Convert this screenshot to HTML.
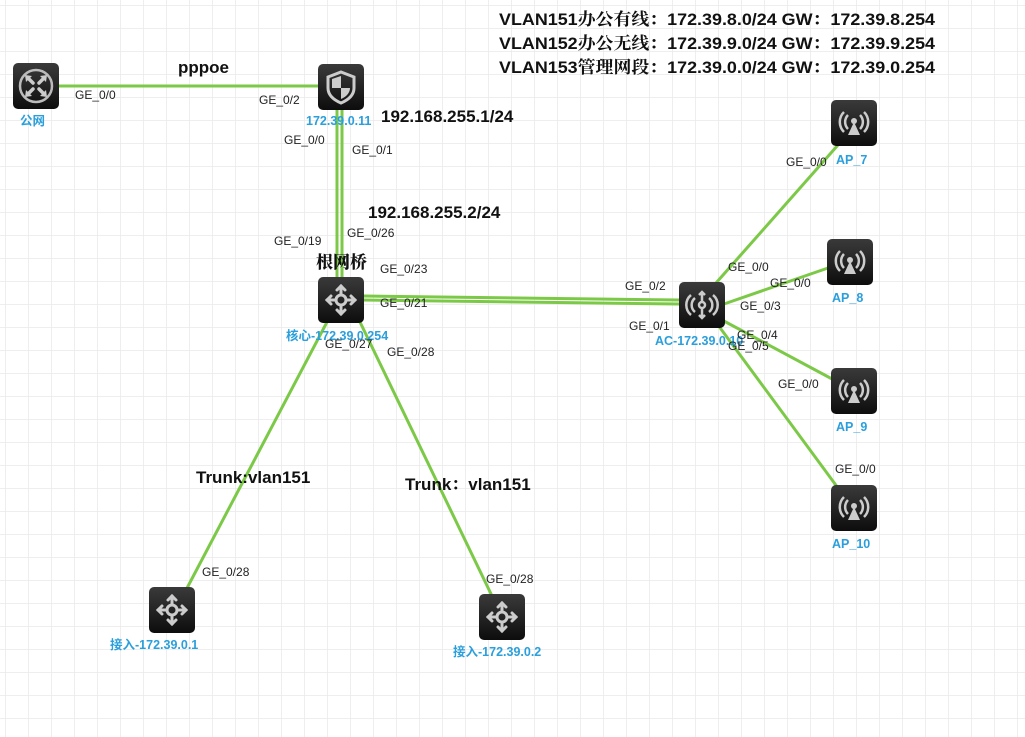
<!DOCTYPE html>
<html><head><meta charset="utf-8"><style>
html,body{margin:0;padding:0;background:#fff;}
svg{display:block;}
.p{font-family:"Liberation Sans",sans-serif;font-size:12px;fill:#222;}
.n{font-family:"Liberation Sans","Noto Sans CJK SC",sans-serif;font-size:12.5px;font-weight:bold;fill:#2a9fdc;}
.b{font-family:"Liberation Sans","Noto Serif CJK SC",sans-serif;font-size:17px;font-weight:bold;fill:#111;}
</style></head><body>
<svg width="1025" height="737" viewBox="0 0 1025 737" xmlns="http://www.w3.org/2000/svg">
<defs>
<pattern id="g" x="5" y="5" width="23" height="23" patternUnits="userSpaceOnUse">
<path d="M0 0V23M0 0H23" stroke="#e9e9e9" stroke-width="1.5" fill="none"/>
</pattern>
<linearGradient id="dk" x1="0" y1="0" x2="0" y2="1"><stop offset="0" stop-color="#3a3a3a"/><stop offset="1" stop-color="#0d0d0d"/></linearGradient>
<g id="box"><rect x="0" y="0" width="46" height="46" rx="5" fill="url(#dk)"/></g>
<g id="sw"><use href="#box"/>
<g stroke="#ccc" stroke-width="3" fill="none" stroke-linecap="round"><circle cx="23" cy="23" r="5"/><path d="M23 18V9M23 28V37M18 23H9M28 23H37"/><path d="M19 13L23 9L27 13M19 33L23 37L27 33M13 19L9 23L13 27M33 19L37 23L33 27"/></g></g>
<g id="ap"><use href="#box"/>
<g stroke="#ccc" stroke-width="2.5" fill="none"><path d="M17 15A10 10 0 0 0 17 29M13 12A14 14 0 0 0 13 32M29 15A10 10 0 0 1 29 29M33 12A14 14 0 0 1 33 32"/></g>
<circle cx="23" cy="21" r="3" fill="#ccc"/><path d="M23 22L17 35H29Z" fill="#ccc"/></g>
</defs>
<rect width="1025" height="737" fill="url(#g)"/>
<g stroke="#7cc947" stroke-width="3" fill="none">
<path d="M58 86H318"/>
<path d="M337 109V278M342 109V278"/>
<path d="M363 296L679 300M363 300L679 304"/>
<path d="M327 322L186 590"/>
<path d="M360 322L492 596"/>
<path d="M716 283L838 145"/>
<path d="M724 304L828 268"/>
<path d="M722 320L834 380"/>
<path d="M718 325L838 488"/>
</g>
<g transform="translate(13,63)"><use href="#box"/>
<circle cx="23" cy="23" r="16" fill="none" stroke="#bbb" stroke-width="2.5"/>
<g stroke="#ccc" stroke-width="3.5" fill="none" stroke-linecap="round"><path d="M15 15L20 20M31 15L26 20M15 31L20 26M31 31L26 26"/></g>
<g fill="#ccc"><path d="M12 12L19 13L13 19Z"/><path d="M34 12L27 13L33 19Z"/><path d="M12 34L19 33L13 27Z"/><path d="M34 34L27 33L33 27Z"/></g></g>
<g transform="translate(318,64)"><use href="#box"/><path d="M23 8L36 13V24C36 31 30 36 23 39C16 36 10 31 10 24V13Z" fill="none" stroke="#ccc" stroke-width="3"/><path d="M23 13V24H14V15L23 12Z M23 24H32C32 29 28 33 23 35Z" fill="#ccc"/></g>
<use href="#sw" x="318" y="277"/>
<use href="#sw" x="149" y="587"/>
<use href="#sw" x="479" y="594"/>
<g transform="translate(679,282)"><use href="#box"/><g stroke="#ccc" stroke-width="2.5" fill="none"><path d="M16 16A9 9 0 0 0 16 30M12 13A13 13 0 0 0 12 33M30 16A9 9 0 0 1 30 30M34 13A13 13 0 0 1 34 33"/><circle cx="23" cy="23" r="3"/><path d="M23 20V10M23 26V36M20 13L23 10L26 13M20 33L23 36L26 33"/></g></g>
<use href="#ap" x="831" y="100"/>
<use href="#ap" x="827" y="239"/>
<use href="#ap" x="831" y="368"/>
<use href="#ap" x="831" y="485"/>
<g class="n">
<text x="20" y="125">公网</text>
<text x="306" y="125">172.39.0.11</text>
<text x="286" y="340">核心-172.39.0.254</text>
<text x="655" y="345">AC-172.39.0.10</text>
<text x="836" y="164">AP_7</text>
<text x="832" y="302">AP_8</text>
<text x="836" y="431">AP_9</text>
<text x="832" y="548">AP_10</text>
<text x="110" y="649">接入-172.39.0.1</text>
<text x="453" y="656">接入-172.39.0.2</text>
</g>
<g class="p">
<text x="75" y="99">GE_0/0</text>
<text x="259" y="104">GE_0/2</text>
<text x="284" y="144">GE_0/0</text>
<text x="352" y="154">GE_0/1</text>
<text x="274" y="245">GE_0/19</text>
<text x="347" y="237">GE_0/26</text>
<text x="380" y="273">GE_0/23</text>
<text x="380" y="307">GE_0/21</text>
<text x="325" y="348">GE_0/27</text>
<text x="387" y="356">GE_0/28</text>
<text x="625" y="290">GE_0/2</text>
<text x="629" y="330">GE_0/1</text>
<text x="786" y="166">GE_0/0</text>
<text x="728" y="271">GE_0/0</text>
<text x="770" y="287">GE_0/0</text>
<text x="740" y="310">GE_0/3</text>
<text x="737" y="339">GE_0/4</text>
<text x="728" y="350">GE_0/5</text>
<text x="778" y="388">GE_0/0</text>
<text x="835" y="473">GE_0/0</text>
<text x="202" y="576">GE_0/28</text>
<text x="486" y="583">GE_0/28</text>
</g>
<g class="b">
<text x="178" y="73">pppoe</text>
<text x="381" y="122">192.168.255.1/24</text>
<text x="368" y="218">192.168.255.2/24</text>
<text x="316" y="268" style="font-family:'Noto Serif CJK SC',serif;font-weight:900">根网桥</text>
<text x="196" y="483">Trunk:vlan151</text>
<text x="405" y="490">Trunk：vlan151</text>
<text x="499" y="25" textLength="436" lengthAdjust="spacingAndGlyphs">VLAN151办公有线：172.39.8.0/24 GW：172.39.8.254</text>
<text x="499" y="49" textLength="436" lengthAdjust="spacingAndGlyphs">VLAN152办公无线：172.39.9.0/24 GW：172.39.9.254</text>
<text x="499" y="73" textLength="436" lengthAdjust="spacingAndGlyphs">VLAN153管理网段：172.39.0.0/24 GW：172.39.0.254</text>
</g>
</svg>
</body></html>
